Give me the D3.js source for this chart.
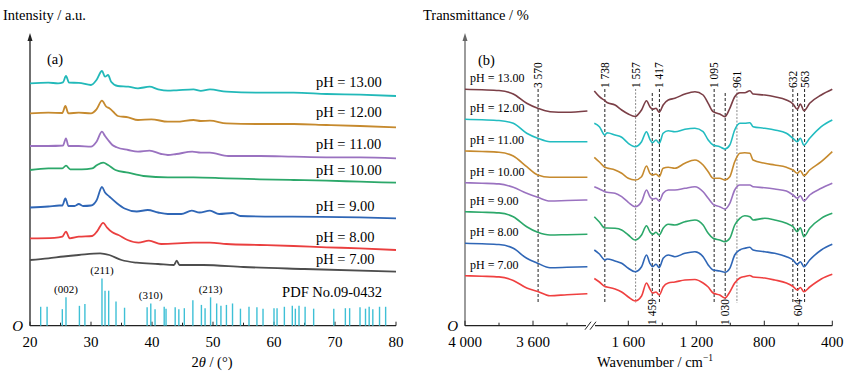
<!DOCTYPE html>
<html>
<head>
<meta charset="utf-8">
<script src="https://cdn.jsdelivr.net/npm/d3@7/dist/d3.min.js"></script>
<style>
  body { margin: 0; background: #fff; }
  svg text { font-family: "Liberation Serif", "DejaVu Serif", "Times New Roman", serif; }
</style>
</head>
<body>
<svg id="chart" width="847" height="372" font-family="Liberation Serif, DejaVu Serif, serif"></svg>
<script>
// ---------- panel (a) XRD data ----------
const xrdLabels = ["pH = 13.00", "pH = 12.00", "pH = 11.00", "pH = 10.00", "pH = 9.00", "pH = 8.00", "pH = 7.00"];
const xrdColors = ["#22b9b9", "#c68a2e", "#9a72c0", "#2ca86a", "#2f66b6", "#ea3f3f", "#4d4d4d"];
const xrdOffsets = [242.4, 212.4, 179.7, 155.7, 118.2, 87.4, 65.7];
const xrdLabelPos = [244, 214, 182, 156, 120, 89, 67];

const xrd13 = [[20,0],[23,0.6],[24.6,0],[25.4,1],[25.9,7.3],[26.4,0.6],[28,0.5],[30,-1.7],[30.9,3.3],[31.8,12.3],[32.3,6.6],[32.8,8.3],[33.3,1.6],[34.4,-2.7],[36.1,-3.4],[37.7,-5],[39.6,-3.4],[41,-6],[42.6,-7.4],[44,-7],[46.8,-6],[48,-7.5],[49.5,-6],[52.2,-8.4],[57.7,-9.4],[63.2,-9.4],[68.6,-10.7],[74.1,-11.4],[80,-12.7]];
const xrd12 = [[20,0],[23,0.6],[25.3,0.3],[25.8,7.3],[26.3,0],[28,0.6],[30,0],[30.9,4],[31.8,12.6],[32.5,6.6],[33,5],[33.9,0],[34.4,-2.7],[36.1,-4],[37.7,-6.7],[39.9,-6],[42.6,-8.4],[44,-8.4],[46.8,-6.7],[48,-7.7],[49.5,-7.4],[52.2,-10],[57.7,-10.7],[63.2,-10.7],[68.6,-11.7],[74.1,-12.7],[80,-14]];
const xrd11 = [[20,0],[23,0],[25.4,0.5],[25.9,7.7],[26.3,0],[28,0],[30,-0.7],[30.9,4.3],[31.8,14.3],[32.3,10],[32.8,6],[33.5,1],[34.2,-1.3],[36.1,-4],[37.7,-5.7],[39.6,-4.7],[41.5,-8],[42.6,-9],[44,-8],[46.6,-5.7],[48,-6.7],[49.5,-6.7],[52.5,-10],[57.7,-10],[63.2,-10.7],[68.6,-11.3],[74.1,-11.3],[80,-12.3]];
const xrd10 = [[20,0],[23,1.7],[25.3,1.7],[25.9,4.3],[26.6,0.7],[28.5,0.7],[30.2,1.7],[31,5],[32,7.3],[32.8,5],[34,0],[36.1,-2.7],[38.6,-6],[42.6,-7.3],[46.8,-7.3],[52.2,-8.3],[57.7,-9.3],[63.2,-10],[68.6,-10.7],[74.1,-11.7],[80,-12.7]];
const xrd9 = [[20,0],[23,1],[24.8,2],[25.3,2],[25.8,9],[26.3,1.5],[27.3,1.5],[28,3.5],[28.7,1.5],[30,2],[30.9,7],[31.8,20.5],[32.3,15],[33,11],[34.3,4],[35.5,-1],[37.5,-4],[39.3,-2.5],[41,-5],[42.6,-6.5],[44.8,-6.5],[46.5,-3.2],[47.8,-5],[49.5,-3.2],[51,-6.5],[53.2,-5.5],[54.5,-8.5],[63,-9.2],[74,-9.8],[80,-10.8]];
const xrd8 = [[20,0],[24,0.5],[25.3,1.6],[25.9,6.6],[26.5,0],[28,1.6],[30.2,2.3],[31,7],[32,15.5],[32.6,11],[33.5,6],[34.5,3.3],[36,-1.7],[37.8,-4.4],[39.5,-2.4],[41.5,-5.7],[46.8,-4.4],[49.5,-4.4],[52.2,-5.7],[57.7,-6.7],[63.2,-7.7],[68.6,-9],[74.1,-10],[80,-11.7]];
const xrd7 = [[20,0],[23,1.7],[25.5,3.5],[28,5],[31.5,6.7],[33,5],[35,0],[37.5,-2.7],[41,-4],[43.6,-5],[44.05,-0.7],[44.5,-5],[48.4,-5],[55,-7],[65,-9],[80,-11.7]];
const xrdSeries = [xrd13, xrd12, xrd11, xrd10, xrd9, xrd8, xrd7];

// PDF No.09-0432 reference lines: [2theta, relative intensity]
const pdfLines = [[21.75,40],[22.8,40],[25.3,35],[25.9,60],[28.1,42],[29.0,46],[31.8,100],[32.3,74],[32.9,74],[34.1,51],[35.5,38],[39.2,39],[39.8,47],[40.5,35],[42.0,40],[42.3,36],[43.8,39],[44.4,35],[45.3,37],[46.7,54],[48.1,44],[48.7,37],[49.6,60],[50.6,47],[51.3,42],[52.2,44],[53.2,47],[54.5,36],[55.9,40],[57.2,39],[58.2,36],[60.0,37],[60.5,37],[61.7,40],[63.0,42],[63.5,36],[64.1,42],[65.1,40],[66.5,36],[69.8,36],[71.7,37],[72.4,37],[74.1,39],[75.0,36],[75.6,40],[76.2,35],[77.3,40],[78.3,40]];
// [label, 2theta, intensity of the line it sits on]
const pdfHkl = [["(002)", 25.9, 60], ["(211)", 31.8, 100], ["(310)", 39.8, 47], ["(213)", 49.6, 60]];
const xrdTicks = [20, 30, 40, 50, 60, 70, 80];
const xrdMinorTicks = [25, 35, 45, 55, 65, 75];

// ---------- panel (b) FTIR data ----------
const ftirLabels = ["pH = 13.00", "pH = 12.00", "pH = 11.00", "pH = 10.00", "pH = 9.00", "pH = 8.00", "pH = 7.00"];
const ftirColors = ["#7b3f47", "#22bcc0", "#c68a2e", "#9a72c0", "#2ca86a", "#2f66b6", "#ef4040"];
const ftirOffsets = [236.4, 206.4, 174.7, 143, 114, 82.4, 50];

const ftirLeftWn = [4000, 3900, 3800, 3716, 3637, 3572, 3500, 3400, 3280];
const ftirLeft = [
  [0,-0.5,-1.2,-4.7,-14,-19,-22.4,-23,-21.7],
  [0,-0.5,-1.2,-4,-14,-19,-22.4,-22.4,-22.4],
  [0,-0.5,-1.2,-5,-15.7,-24,-26.3,-26.3,-26.3],
  [0,-0.5,-1.2,-4.6,-10.6,-14.6,-18.3,-17.8,-17.3],
  [0,-0.5,-1.2,-5,-15,-20.6,-23.3,-23,-22.6],
  [0,-0.5,-1.2,-5,-15,-20,-24.4,-24,-23.4],
  [0,-0.5,-1.2,-4.7,-12.3,-15.7,-20,-19,-18]
];

const ftirRightWn = [1800,1770,1738,1725,1678,1639,1600,1560,1522,1493,1473,1457,1437,1418,1395,1365,1326,1267,1208,1160,1130,1101,1062,1032,1003,974,944,915,885,866,797,739,670,631,606,588,567,533,465,400];
const ftir13 = [-1.7,-7.4,-11.4,-13.2,-15.7,-20.7,-24.7,-27.2,-20.7,-11.4,-17.4,-20,-19,-23,-15.7,-10.7,-9,-4.7,-2.4,-5.7,-14,-22.4,-24.7,-27.4,-19,-7.4,-3.4,-3.4,-1.4,-4.7,-5.7,-7.4,-10.7,-14.7,-20,-14.7,-21.4,-14,-5.7,0];
const ftir12 = [-4,-7.4,-15.7,-13.4,-15.7,-18,-24,-27.4,-22.4,-12.4,-20,-23.4,-20.7,-24,-14,-11.4,-12.4,-10,-9,-12.4,-20.7,-25.7,-27.4,-29.7,-25.7,-10.7,-4,-4,-3.4,-7.4,-9,-10.7,-14,-19,-22.4,-19,-25.7,-19,-7.4,-0.7];
const ftir11 = [-6.3,-11,-16.3,-17,-19,-22.3,-27.3,-29,-25.7,-15,-22.3,-24,-23,-25.7,-17.3,-16.3,-17.3,-12.3,-9,-14,-20.7,-27.3,-27.3,-29,-25.7,-10.7,-2.3,-1.7,-2.3,-9,-12.3,-14,-16.3,-19,-22.3,-19.7,-24.7,-19,-10.7,-0.7];
const ftir10 = [-4,-6.3,-9,-9.6,-10.6,-14,-19.6,-24,-19,-7.3,-14,-16.3,-15.6,-18.3,-10.6,-7.3,-7.3,-5.6,-4,-9,-15.6,-21.6,-24,-26.3,-20.6,-7.3,-2.3,-2.3,-2.3,-4,-5,-6.3,-8.3,-12.3,-15.6,-13,-18.3,-12.3,-5.6,-0.6];
const ftir9 = [-5,-10.3,-16.3,-16.3,-16.6,-18.3,-23.3,-28.3,-23.3,-14,-20,-22.6,-20.6,-23.3,-16.6,-12.6,-13.3,-10,-8.3,-13.3,-21.6,-26.6,-28.3,-30,-26.6,-13.3,-6.6,-4,-5,-8.3,-6.6,-8.3,-11.6,-15,-20,-16,-25,-16.6,-6.6,-1.6];
const ftir8 = [-6.7,-10.7,-16.7,-15.7,-17.7,-20,-25,-28.4,-23.4,-11.7,-20,-23.4,-21,-24.4,-15,-11.7,-13.4,-10,-8.4,-13.4,-21.7,-26.7,-27.7,-29,-25,-11.7,-6.7,-5,-4,-6.7,-8.4,-10,-13.4,-16.7,-21,-18.4,-23.4,-16.7,-6.7,-1];
const ftir7 = [-2.8,-6.3,-10.8,-11.3,-13.3,-16.3,-21.3,-25.3,-20.3,-7.3,-13.3,-17.3,-16.3,-19.3,-11.3,-7.3,-6.3,-4.3,-3.8,-7.3,-11.3,-17.3,-19.3,-22.3,-16.3,-7.3,-2.3,-0.8,0.2,-1.3,-2.3,-4.3,-7.3,-10.8,-14.3,-11.8,-16,-11.3,-3.3,1.4];
const ftirRight = [ftir13, ftir12, ftir11, ftir10, ftir9, ftir8, ftir7];

// marked bands: [wavenumber, label side, dark?]
const bandMarks = [[3570,"top",true],[1738,"top",true],[1557,"top",false],[1459,"bottom",true],[1417,"top",true],[1095,"top",true],[1030,"bottom",true],[961,"top",false],[632,"top",true],[604,"bottom",true],[563,"top",true]];
const ftirTicks = [4000, 3600, 1600, 1200, 800, 400];
const ftirMinorTicks = [3800, 3400, 1400, 1000, 600];

// ---------- drawing ----------
const svg = d3.select("#chart");
const axisY = 325.7;
const topY = 33;

const fmtWn = (d) => d >= 1000 ? `${Math.floor(d / 1000)} ${String(d % 1000).padStart(3, "0")}` : `${d}`;

// shared y scale (arbitrary units)
const y = d3.scaleLinear().domain([0, 292.7]).range([axisY, topY]);

const drawYAxis = (x0, color) => {
    svg.append("line")
        .attr("x1", x0).attr("x2", x0)
        .attr("y1", axisY).attr("y2", topY + 4)
        .attr("stroke", color)
        .attr("stroke-width", 1.3);
    svg.append("path")
        .attr("d", `M${x0},${topY} L${x0 - 2.5},${topY + 8} L${x0 + 2.5},${topY + 8} Z`)
        .attr("fill", color);
    svg.append("text")
        .attr("x", x0 - 7).attr("y", axisY + 5)
        .attr("text-anchor", "end")
        .style("font-style", "italic")
        .style("font-size", "15px")
        .text("O");
}

// ===== panel (a) =====
const xA = d3.scaleLinear().domain([20, 80]).range([30, 396]);

svg.append("text").attr("x", 3).attr("y", 20).style("font-size", "14.5px").text("Intensity / a.u.");
svg.append("text").attr("x", 47).attr("y", 64).style("font-size", "14.5px").text("(a)");

drawYAxis(30, "#222");

svg.append("line")
    .attr("x1", 30).attr("x2", 396)
    .attr("y1", axisY).attr("y2", axisY)
    .attr("stroke", "#222").attr("stroke-width", 1.3);

svg.selectAll(".xa-tick")
    .data(xrdTicks.concat(xrdMinorTicks))
    .join("line")
    .attr("class", "xa-tick")
    .attr("x1", d => xA(d)).attr("x2", d => xA(d))
    .attr("y1", axisY).attr("y2", d => axisY - (d % 10 === 0 ? 4 : 3))
    .attr("stroke", "#222");

svg.selectAll(".xa-label")
    .data(xrdTicks)
    .join("text")
    .attr("class", "xa-label")
    .attr("x", d => xA(d)).attr("y", axisY + 21)
    .attr("text-anchor", "middle")
    .style("font-size", "15px")
    .text(d => d);

const xaTitle = svg.append("text")
    .attr("x", 212).attr("y", 367)
    .attr("text-anchor", "middle")
    .style("font-size", "14.5px");
xaTitle.append("tspan").text("2");
xaTitle.append("tspan").style("font-style", "italic").text("θ");
xaTitle.append("tspan").text(" / (°)");

// PDF reference sticks
const stickH = d3.scaleLinear().domain([0, 100]).range([0, 47.3]);
svg.selectAll(".pdf")
    .data(pdfLines)
    .join("line")
    .attr("class", "pdf")
    .attr("x1", d => xA(d[0])).attr("x2", d => xA(d[0]))
    .attr("y1", axisY).attr("y2", d => axisY - stickH(d[1]))
    .attr("stroke", "#3ec0d6")
    .attr("stroke-width", 1.4);

svg.selectAll(".hkl")
    .data(pdfHkl)
    .join("text")
    .attr("class", "hkl")
    .attr("x", d => xA(d[1]))
    .attr("y", d => axisY - stickH(d[2]) - 4)
    .attr("text-anchor", "middle")
    .style("font-size", "11px")
    .text(d => d[0]);

svg.append("text")
    .attr("x", 382).attr("y", 297)
    .attr("text-anchor", "end")
    .style("font-size", "14.5px")
    .text("PDF No.09-0432");

const xrdLine = d3.line()
    .x(d => xA(d[0]))
    .y(d => y(d[1]))
    .curve(d3.curveMonotoneX);

xrdSeries.forEach((series, i) => {
    svg.append("path")
        .datum(series.map(d => [d[0], d[1] + xrdOffsets[i]]))
        .attr("d", xrdLine)
        .attr("fill", "none")
        .attr("stroke", xrdColors[i])
        .attr("stroke-width", 1.8);
    svg.append("text")
        .attr("x", 316).attr("y", y(xrdLabelPos[i]) + 5)
        .style("font-size", "14.5px")
        .text(xrdLabels[i]);
});

// ===== panel (b) =====
// broken axis: 4000-3280 then 1800-400, same cm-1 per pixel
const xB = d3.scaleLinear()
    .domain([4000, 3280, 1800, 400])
    .range([465, 587.4, 594.3, 832.3]);

svg.append("text").attr("x", 423).attr("y", 20).style("font-size", "14.5px").text("Transmittance / %");
svg.append("text").attr("x", 478).attr("y", 65).style("font-size", "14.5px").text("(b)");

drawYAxis(465, "#666");

svg.append("line")
    .attr("x1", 465).attr("x2", 586)
    .attr("y1", axisY).attr("y2", axisY)
    .attr("stroke", "#222").attr("stroke-width", 1.3);
svg.append("line")
    .attr("x1", 595).attr("x2", xB(400))
    .attr("y1", axisY).attr("y2", axisY)
    .attr("stroke", "#222").attr("stroke-width", 1.3);
// break marks
[585, 590].forEach(bx => {
    svg.append("line")
        .attr("x1", bx).attr("x2", bx + 6)
        .attr("y1", axisY + 4).attr("y2", axisY - 4)
        .attr("stroke", "#222").attr("stroke-width", 1);
});

svg.selectAll(".xb-tick")
    .data(ftirTicks.concat(ftirMinorTicks))
    .join("line")
    .attr("class", "xb-tick")
    .attr("x1", d => xB(d)).attr("x2", d => xB(d))
    .attr("y1", axisY).attr("y2", d => axisY - (ftirTicks.includes(d) ? 5 : 3))
    .attr("stroke", "#222");

svg.selectAll(".xb-label")
    .data(ftirTicks)
    .join("text")
    .attr("class", "xb-label")
    .attr("x", d => xB(d)).attr("y", axisY + 21)
    .attr("text-anchor", "middle")
    .style("font-size", "15px")
    .text(d => fmtWn(d));

const xbTitle = svg.append("text")
    .attr("x", 655).attr("y", 367)
    .attr("text-anchor", "middle")
    .style("font-size", "14.5px");
xbTitle.append("tspan").text("Wavenumber / cm");
xbTitle.append("tspan").attr("dy", -6).style("font-size", "9.5px").text("−1");

// dashed band markers
bandMarks.forEach(([wn, side, dark]) => {
    const bx = xB(wn);
    svg.append("line")
        .attr("x1", bx).attr("x2", bx)
        .attr("y1", side === "top" ? 89 : 93)
        .attr("y2", side === "top" ? 303 : 299)
        .attr("stroke", dark ? "#222" : "#8a8a8a")
        .attr("stroke-width", 1)
        .attr("stroke-dasharray", dark ? "3,2" : "2,1.5");
    svg.append("text")
        .attr("transform", `translate(${bx + 4},${side === "top" ? 88 : 299}) rotate(-90)`)
        .attr("text-anchor", side === "top" ? "start" : "end")
        .style("font-size", "11.5px")
        .text(fmtWn(wn));
});

const ftirLine = d3.line()
    .x(d => xB(d[0]))
    .y(d => y(d[1]))
    .curve(d3.curveMonotoneX);

ftirRight.forEach((vals, i) => {
    const left = ftirLeftWn.map((wn, j) => [wn, ftirLeft[i][j] + ftirOffsets[i]]);
    const right = ftirRightWn.map((wn, j) => [wn, vals[j] + ftirOffsets[i]]);
    [left, right].forEach(seg => {
        svg.append("path")
            .datum(seg)
            .attr("d", ftirLine)
            .attr("fill", "none")
            .attr("stroke", ftirColors[i])
            .attr("stroke-width", 1.6);
    });
    svg.append("text")
        .attr("x", 470).attr("y", y(ftirOffsets[i]) - 7)
        .style("font-size", "12px")
        .text(ftirLabels[i]);
});
</script>
</body>
</html>
